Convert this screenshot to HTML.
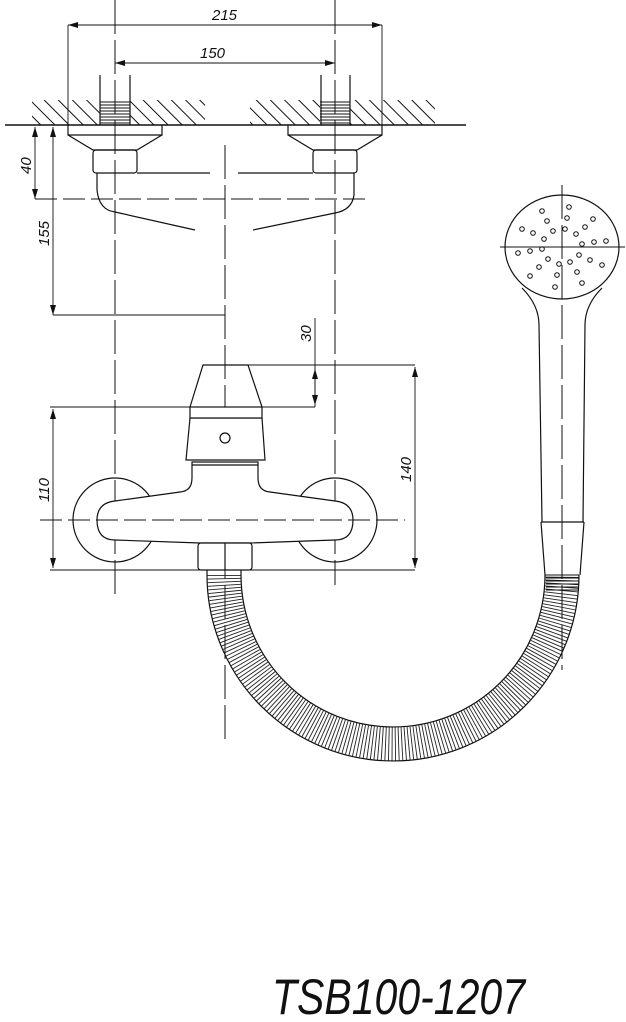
<!DOCTYPE html>
<html><head><meta charset="utf-8"><style>
html,body{margin:0;padding:0;background:#fff}
svg{display:block}
text{font-family:"Liberation Sans",sans-serif;font-style:italic;fill:#111}
</style></head><body>
<svg width="626" height="1022" viewBox="0 0 626 1022" xmlns="http://www.w3.org/2000/svg">
<defs>
<pattern id="h" width="10" height="10" patternUnits="userSpaceOnUse" patternTransform="rotate(-45)">
<line x1="0" y1="0" x2="0" y2="10" stroke="#111" stroke-width="2"/>
</pattern>
<marker id="a" viewBox="0 0 10 6" refX="10" refY="3" markerWidth="10" markerHeight="6" orient="auto-start-reverse" markerUnits="userSpaceOnUse">
<path d="M0,0 L10,3 L0,6 z" fill="#111"/>
</marker>
</defs>
<g fill="none" stroke="#111" stroke-width="1.2">
<rect x="32" y="100" width="173" height="25" fill="url(#h)" stroke="none"/>
<rect x="250" y="100" width="185" height="25" fill="url(#h)" stroke="none"/>
<rect x="100" y="98" width="30" height="27" fill="#fff" stroke="none"/>
<rect x="320" y="98" width="30" height="27" fill="#fff" stroke="none"/>
<g stroke-width="1">
<path d="M100,102h30M100,105h30M100,108h30M100,111h30M100,114h30M100,117h30M100,120h30M100,123h30"/>
<path d="M320,102h30M320,105h30M320,108h30M320,111h30M320,114h30M320,117h30M320,120h30M320,123h30"/>
</g>
<path d="M100,75V125M130,75V125M321,75V125M350,75V125"/>
<line x1="5" y1="125" x2="466" y2="125" stroke-width="1.5"/>
<g stroke-dasharray="34 6" stroke-width="1">
<line x1="115" y1="0" x2="115" y2="595"/>
<line x1="335" y1="0" x2="335" y2="585"/>
<line x1="225" y1="145" x2="225" y2="740"/>
<line x1="562" y1="185" x2="562" y2="670"/>
</g>
<g stroke-width="0.9">
<path d="M68,25V125M382,25V125"/>
<line x1="68" y1="25" x2="382" y2="25" marker-start="url(#a)" marker-end="url(#a)"/>
<line x1="115" y1="63" x2="335" y2="63" marker-start="url(#a)" marker-end="url(#a)"/>
<line x1="35" y1="127" x2="35" y2="199" marker-start="url(#a)" marker-end="url(#a)"/>
<line x1="53" y1="127" x2="53" y2="315" marker-start="url(#a)" marker-end="url(#a)"/>
<path d="M53,315H225"/>
<path d="M35,199H365" stroke-dasharray="22 6"/>
</g>
<path d="M68,125V135H162V125M68,135L93,150H137L162,135"/>
<path d="M288,125V135H382V125M288,135L313,150H357L382,135"/>
<rect x="93" y="150" width="44" height="23" rx="3"/>
<rect x="313" y="150" width="44" height="23" rx="3"/>
<path d="M137,173H210M238,173H313"/>
<path d="M97,173V190Q99,210 115,212L195,230"/>
<path d="M354,173V195Q352,210 335,213L253,230"/>
<circle cx="115" cy="520" r="42"/>
<circle cx="335" cy="520" r="42"/>
<path d="M192,462V478Q192,491 180,492L115,501Q97,503 97,520Q97,540 115,540L200,543H250L335,540Q353,540 353,520Q353,503 335,501L270,492Q258,491 258,478V462Z" fill="#fff"/>
<path d="M192,465H258"/>
<path d="M186,460L190,418H262L265,460Z" fill="#fff"/>
<rect x="190" y="407" width="72" height="11" fill="#fff"/>
<path d="M190,407L203,365H248L262,407"/>
<circle cx="225" cy="438" r="5"/>
<rect x="198" y="543" width="54" height="27" rx="3" fill="#fff"/>
<line x1="225" y1="543" x2="225" y2="570"/>
<path d="M40,520H405" stroke-dasharray="22 6" stroke-width="1"/>
<g stroke-width="0.9">
<path d="M203,365H415M50,407H315M50,570H415M315,318V407"/>
<line x1="315" y1="369" x2="315" y2="405" marker-start="url(#a)" marker-end="url(#a)"/>
<line x1="415" y1="367" x2="415" y2="568" marker-start="url(#a)" marker-end="url(#a)"/>
<line x1="53" y1="409" x2="53" y2="568" marker-start="url(#a)" marker-end="url(#a)"/>
</g>
<path d="M224,575A169,169 0 0 0 562,575" stroke="#222" stroke-width="33" stroke-dasharray="0.9 2.4"/>
<path d="M207,570V575A186,186 0 0 0 579,575M241,570V575A152,152 0 0 0 545,575"/>
<path d="M545,575H579M546,578h33M546,581h33M546,584h33M546,587h33M546,590h33" stroke-width="1"/>
<ellipse cx="562" cy="247" rx="57" ry="52"/>
<path d="M522,288Q539,305 539,325L542,522M602,288Q585,305 585,325L583,522"/>
<path d="M541,522H584M541,522L545,575M584,522L580,575"/>
<path d="M500,247H625" stroke-width="1"/>
<g stroke-width="1">
<circle cx="542" cy="211" r="2.3"/><circle cx="569" cy="207" r="2.3"/><circle cx="547" cy="221" r="2.3"/><circle cx="567" cy="218" r="2.3"/><circle cx="593" cy="219" r="2.3"/><circle cx="522" cy="229" r="2.3"/><circle cx="533" cy="233" r="2.3"/><circle cx="553" cy="231" r="2.3"/><circle cx="565" cy="229" r="2.3"/><circle cx="585" cy="227" r="2.3"/><circle cx="576" cy="234" r="2.3"/><circle cx="544" cy="239" r="2.3"/><circle cx="582" cy="244" r="2.3"/><circle cx="594" cy="242" r="2.3"/><circle cx="606" cy="241" r="2.3"/><circle cx="518" cy="253" r="2.3"/><circle cx="530" cy="251" r="2.3"/><circle cx="542" cy="249" r="2.3"/><circle cx="548" cy="259" r="2.3"/><circle cx="559" cy="264" r="2.3"/><circle cx="570" cy="262" r="2.3"/><circle cx="579" cy="255" r="2.3"/><circle cx="590" cy="260" r="2.3"/><circle cx="602" cy="265" r="2.3"/><circle cx="539" cy="267" r="2.3"/><circle cx="577" cy="272" r="2.3"/><circle cx="530" cy="276" r="2.3"/><circle cx="557" cy="275" r="2.3"/><circle cx="555" cy="287" r="2.3"/><circle cx="582" cy="283" r="2.3"/>
</g>
</g>
<g font-size="15">
<text x="212" y="20">215</text>
<text x="200" y="58">150</text>
<text transform="translate(31,174) rotate(-90)">40</text>
<text transform="translate(49,246) rotate(-90)">155</text>
<text transform="translate(311,342) rotate(-90)">30</text>
<text transform="translate(411,482) rotate(-90)">140</text>
<text transform="translate(49,502) rotate(-90)">110</text>
</g>
<text x="272" y="1014" font-size="50" textLength="253" lengthAdjust="spacingAndGlyphs">TSB100-1207</text>
</svg>
</body></html>
